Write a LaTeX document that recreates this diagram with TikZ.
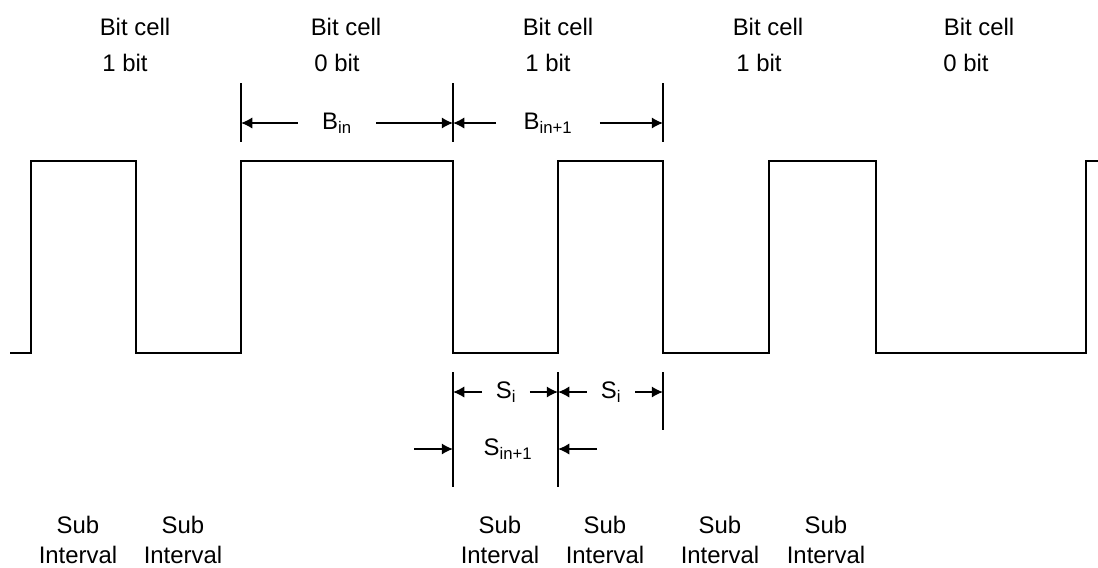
\documentclass[tikz,border=0pt]{standalone}
\usepackage{fontspec}
\setmainfont{Liberation Sans}
\usetikzlibrary{arrows.meta}
\tikzstyle{wave}=[draw, line width=1.7pt, line join=miter]
\tikzstyle{tick}=[draw, line width=1.4pt]
\tikzstyle{dim}=[draw, line width=1.1pt, -{Latex[length=8pt,width=8pt]}]
\tikzstyle{lbl}=[inner sep=0pt
%,draw
,font=\fontsize{17}{21}\selectfont
]

\begin{document}
\begin{tikzpicture}[x=0.025cm, y=-0.025cm]
    \useasboundingbox (0,0) rectangle (1098,567);
    % Draw the signal
    \draw[wave] (10,353) -| (31,161) -| (136,353) -| (241,161) -| (453,353) -| (558,161)
        -| (663,353) -| (769,161) -| (876,353) -| (1086,161) -- (1098,161);

    % Bit cell labels on top
    \foreach \x/\xb/\b/\name in {135/125/1/1, 346/337/0/2, 558/548/1/3, 768/759/1/4, 979/966/0/5} {
        \node[lbl] (cell\name) at (\x,27) {Bit cell};
        \node[lbl] (bit\name) at (\xb,63) {\b\ bit};
    }

    % Tick marks
    \foreach \x/\name in {241/a, 453/b, 663/c} {
        \path[tick] (\x,83) -- (\x,142);
        \coordinate (B-\name) at (\x,123);
    }
    \foreach \x/\yb/\name in {453/487/a, 558/487/b, 663/430/c} {
        \path[tick] (\x,372) -- (\x,\yb);
        \coordinate (S-\name) at (\x,392);
        \coordinate (T-\name) at (\x,449);
    }

    % Bit cell widths
    \node[lbl, minimum width=1.95cm] (Bin) at (337,123) {B\textsubscript{in}};
    \node[lbl, minimum width=2.575cm] (Binn) at (548,123) {B\textsubscript{in+1}};
    \foreach \source/\dest in {Bin/B-a, Bin/B-b, Binn/B-b, Binn/B-c}
        \path[dim] (\source) -- (\dest);

    % Sub interval widths
    \node[lbl, minimum width=1.175cm] (Si1) at (506,392) {S\textsubscript{i}};
    \node[lbl, minimum width=1.2cm] (Si2) at (611,392) {S\textsubscript{i}};
    \foreach \source/\dest in {Si1/S-a, Si1/S-b, Si2/S-b, Si2/S-c}
        \path[dim] (\source) -- (\dest);

    \node[lbl] (Sinn) at (508,449) {S\textsubscript{in+1}};
    \coordinate (Sinn-l) at (414,449);
    \coordinate (Sinn-r) at (597,449);
    \path[dim] (Sinn-l) -- (T-a);
    \path[dim] (Sinn-r) -- (T-b);

    % Sub interval labels
    \foreach \x/\name in {78/1, 183/2, 500/3, 605/4, 720/5, 826/6}
        \node[lbl, align=center] (sub\name) at (\x,540) {Sub\\Interval};
\end{tikzpicture}
\end{document}
